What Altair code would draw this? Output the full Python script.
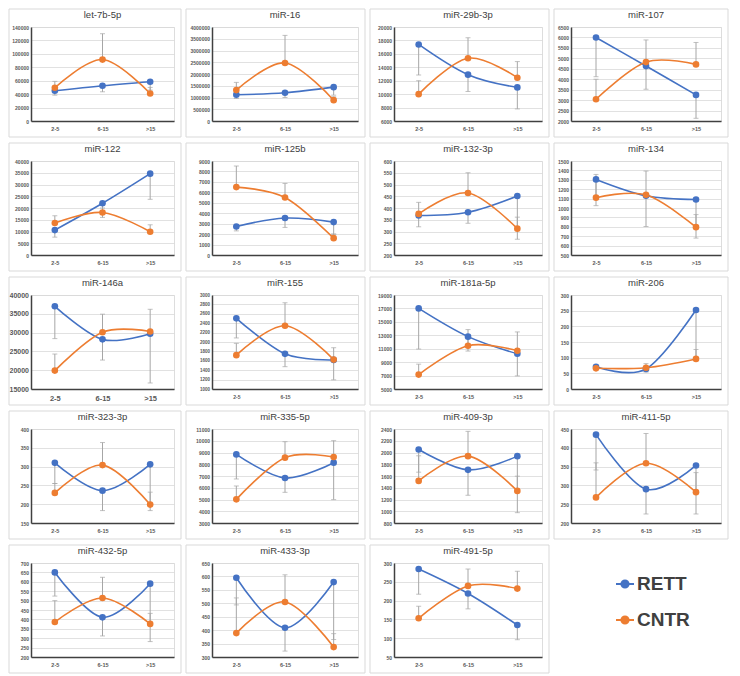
import altair as alt
import pandas as pd

ages = ["2-5", "6-15", ">15"]
series_names = ["RETT", "CNTR"]

mirnas = ["let-7b-5p", "miR-16", "miR-29b-3p", "miR-107",
          "miR-122", "miR-125b", "miR-132-3p", "miR-134",
          "miR-146a", "miR-155", "miR-181a-5p", "miR-206",
          "miR-323-3p", "miR-335-5p", "miR-409-3p", "miR-411-5p",
          "miR-432-5p", "miR-433-3p", "miR-491-5p"]

rett_mean = [
    [45000, 52500, 58500],
    [1120000, 1200000, 1440000],
    [17400, 12900, 11000],
    [6000, 4630, 3250],
    [10600, 22000, 34600],
    [2730, 3540, 3150],
    [368, 382, 451],
    [1304, 1130, 1090],
    [37000, 28200, 29700],
    [2504, 1748, 1619],
    [17000, 12800, 10250],
    [71, 64, 252],
    [310, 236, 306],
    [8840, 6830, 8135],
    [2052, 1705, 1938],
    [435, 290, 353],
    [650, 411, 590],
    [595, 409, 579],
    [284, 219, 135],
]
rett_low = [
    [38500, 43500, 46000],
    [957000, 1000000, 1100000],
    [12850, 10400, 7800],
    [4120, 3520, 2130],
    [7600, 16000, 23700],
    [2310, 2640, 2000],
    [320, 335, 267],
    [1025, 803, 680],
    [28400, 22700, 16600],
    [2086, 1475, 1195],
    [10950, 10650, 6950],
    [65, 54, 100],
    [255, 183, 183],
    [6745, 5610, 4990],
    [1665, 1272, 976],
    [341, 224, 224],
    [524, 312, 282],
    [494, 322, 365],
    [217, 178, 96],
]
cntr_mean = [
    [49500, 91500, 41000],
    [1314000, 2470000, 886000],
    [10000, 15350, 12450],
    [3040, 4820, 4710],
    [13600, 18100, 9900],
    [6500, 5500, 1610],
    [375, 464, 312],
    [1110, 1140, 796],
    [19900, 30100, 30300],
    [1720, 2345, 1626],
    [7150, 11450, 10700],
    [66, 68, 96],
    [230, 304, 199],
    [5014, 8560, 8617],
    [1517, 1938, 1346],
    [268, 359, 282],
    [386, 514, 376],
    [389, 505, 337],
    [153, 239, 232],
]
cntr_high = [
    [59000, 130000, 50000],
    [1643000, 3643000, 1030000],
    [12000, 18400, 14850],
    [4000, 5880, 5760],
    [16700, 20000, 12860],
    [8520, 6850, 2000],
    [424, 550, 361],
    [1357, 1393, 930],
    [24300, 34900, 36200],
    [1971, 2835, 1878],
    [8700, 13850, 13500],
    [72, 81, 126],
    [255, 364, 232],
    [6150, 9920, 10007],
    [1944, 2360, 1597],
    [360, 438, 334],
    [500, 624, 432],
    [520, 606, 387],
    [185, 284, 278],
]
y_min = [0, 0, 6000, 2000, 0, 0, 200, 500, 15000, 1000, 5000, 0,
         150, 3000, 800, 200, 200, 300, 50]
y_max = [140000, 4000000, 20000, 6500, 40000, 9000, 600, 1500, 40000, 3000,
         19000, 300, 400, 11000, 2400, 450, 700, 650, 300]
y_step = [20000, 500000, 2000, 500, 5000, 1000, 50, 100, 5000, 200, 2000,
          50, 50, 1000, 200, 50, 50, 50, 50]

# ---- layout / style (not data) ----
BLUE = "#4472C4"
ORANGE = "#ED7D31"
GRAY = "#A6A6A6"
TXT = "#595959"
FONT = "Liberation Sans"
col_width = [143, 146, 148, 150]   # plot width per column
frame_left = [22, 26, 24, 17]      # panel frame space left of plot
FRAME_R = 7
FRAME_T = 18
FRAME_B = 16
PLOT_H = 94
label_size = [5] * 19
label_size[8] = 7
label_size[9] = 4.5

color_scale = alt.Scale(domain=series_names, range=[BLUE, ORANGE])
legend_path = "M-1,0L1,0M0.4,0A0.4,0.4,0,1,1,-0.4,0A0.4,0.4,0,1,1,0.4,0Z"
legend = alt.Legend(
    title=None, orient="none", legendX=584, legendY=547,
    labelFontSize=19, labelFont=FONT, labelFontWeight="bold",
    labelColor="#404040", symbolType=legend_path, symbolSize=324,
    symbolStrokeWidth=2, rowPadding=16, labelOffset=2,
)

frame_df = pd.DataFrame({"panel": [0]})

charts = []
for i, name in enumerate(mirnas):
    rows = []
    for j, age in enumerate(ages):
        rows.append({"age": age, "idx": j, "series": "RETT",
                     "value": rett_mean[i][j], "end": rett_low[i][j]})
        rows.append({"age": age, "idx": j, "series": "CNTR",
                     "value": cntr_mean[i][j], "end": cntr_high[i][j]})
    df = pd.DataFrame(rows)
    c = i % 4
    W = col_width[c]
    ls = label_size[i]
    ticks = list(range(y_min[i], y_max[i] + 1, y_step[i]))

    x_enc = alt.X("age:N", sort=ages,
                  scale=alt.Scale(type="point", padding=0.5),
                  axis=alt.Axis(title=None, ticks=False, grid=False,
                                labelFontSize=ls + 0.5, labelFont=FONT,
                                labelFontWeight="bold", labelColor=TXT,
                                labelPadding=5, labelAngle=0,
                                domainColor="#404040", domainWidth=1.5))
    y_scale = alt.Scale(domain=[y_min[i], y_max[i]], nice=False, zero=False)
    y_axis = alt.Axis(title=None, ticks=False, values=ticks,
                      tickCount=len(ticks), format="d",
                      grid=True, gridColor="#D9D9D9", gridWidth=0.8,
                      labelFontSize=ls, labelFont=FONT, labelFontWeight="bold",
                      labelColor=TXT, labelPadding=2.5, labelOverlap=False,
                      labelFlush=False,
                      domainColor="#404040", domainWidth=1.5)

    frame = alt.Chart(frame_df).mark_rect(
        fill="transparent", stroke="#D9D9D9", strokeWidth=1
    ).encode(
        x=alt.value(-frame_left[c]), x2=alt.value(W + FRAME_R),
        y=alt.value(-FRAME_T), y2=alt.value(PLOT_H + FRAME_B),
    )

    base = alt.Chart(df)
    rule = base.mark_rule(color=GRAY, strokeWidth=1).encode(
        x=x_enc,
        y=alt.Y("value:Q", scale=y_scale, axis=y_axis),
        y2="end:Q",
    )
    cap = base.mark_tick(color=GRAY, size=5, thickness=1).encode(
        x=alt.X("age:N", sort=ages),
        y=alt.Y("end:Q"),
    )
    line = base.mark_line(interpolate="cardinal", strokeWidth=1.6).encode(
        x=alt.X("age:N", sort=ages),
        y=alt.Y("value:Q"),
        color=alt.Color("series:N", scale=color_scale, legend=legend),
        order="idx:Q",
    )
    pts = base.mark_point(filled=True, size=44, opacity=1).encode(
        x=alt.X("age:N", sort=ages),
        y=alt.Y("value:Q"),
        color=alt.Color("series:N", scale=color_scale, legend=legend),
    )
    ch = alt.layer(frame, rule, cap, line, pts).properties(
        width=W, height=PLOT_H,
        title=alt.TitleParams(text=name, fontSize=9.5, font=FONT,
                              color="#404040", fontWeight="normal",
                              offset=-11, anchor="middle"),
    )
    charts.append(ch)

chart = alt.concat(
    *charts, columns=4, spacing={"row": 4, "column": 3}, align="each"
).properties(padding=0).configure_view(stroke=None).configure(
    background="white"
)

chart.save("out.html", embed_options={"renderer": "svg", "actions": False})
